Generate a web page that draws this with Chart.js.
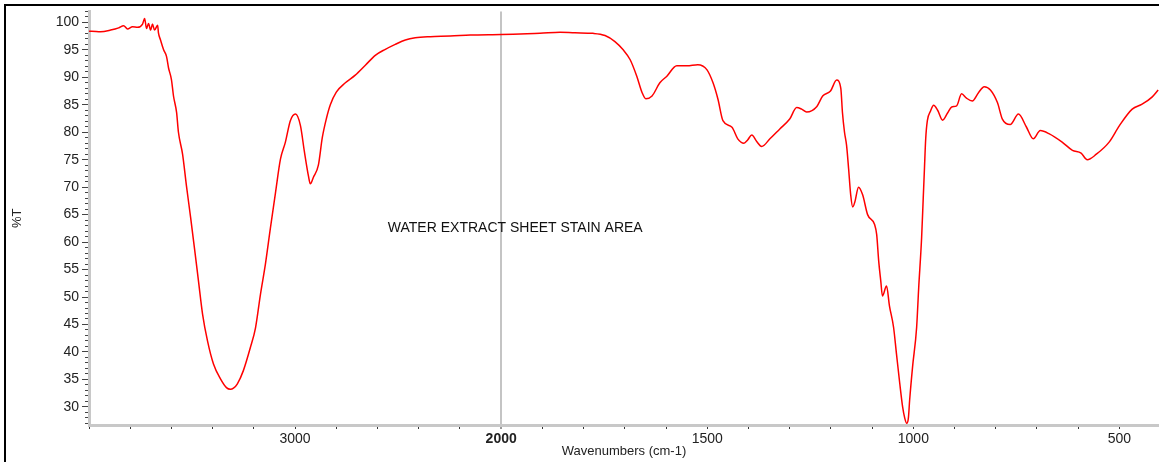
<!DOCTYPE html>
<html>
<head>
<meta charset="utf-8">
<script src="https://cdn.jsdelivr.net/npm/chart.js@4.4.1/dist/chart.umd.min.js"></script>
<style>
  html, body { margin: 0; padding: 0; background: #fff; }
</style>
</head>
<body>
<canvas id="irChart" width="1159" height="462"></canvas>
<script>
// spectrum (wavenumber in cm-1, %T)
const wavenumbers = [
  4000, 3987, 3944, 3895, 3856, 3832, 3813, 3789, 3764, 3740, 3730, 3721, 3711, 3701, 3692, 3682,
  3667, 3663, 3653, 3638, 3624, 3614, 3600, 3590, 3575, 3566, 3546, 3527, 3507, 3488, 3469, 3449,
  3425, 3396, 3362, 3333, 3314, 3299, 3280, 3251, 3217, 3192, 3168, 3144, 3120, 3095, 3071, 3047,
  3023, 2998, 2974, 2955, 2935, 2926, 2911, 2887, 2868, 2848, 2829, 2800, 2756, 2708, 2659, 2611,
  2562, 2514, 2465, 2417, 2344, 2247, 2150, 2000, 1954, 1906, 1857, 1821, 1777, 1748, 1724, 1704,
  1687, 1671, 1658, 1649, 1634, 1615, 1598, 1574, 1549, 1523, 1501, 1486, 1474, 1462, 1440, 1426,
  1411, 1402, 1392, 1380, 1368, 1348, 1324, 1300, 1283, 1271, 1259, 1234, 1220, 1201, 1186, 1176,
  1172, 1167, 1162, 1157, 1152, 1147, 1142, 1133, 1123, 1111, 1094, 1089, 1084, 1079, 1075, 1065,
  1058, 1048, 1041, 1033, 1026, 1021, 1016, 1012, 1009, 1002, 992, 987, 980, 976, 973, 970,
  966, 958, 951, 941, 929, 917, 907, 895, 883, 871, 857, 842, 828, 813, 796, 784,
  765, 745, 726, 709, 692, 670, 639, 614, 593, 578, 556, 525, 500, 469, 445, 421, 406
];
const transmittance = [
  98.4, 98.4, 98.3, 98.6, 99.0, 99.4, 98.8, 99.2, 99.1, 99.7, 100.7, 98.9, 99.8, 98.6, 99.7, 98.6,
  99.5, 98.1, 96.8, 95.0, 93.8, 91.7, 89.6, 86.6, 83.6, 80.0, 76.0, 70.2, 64.5, 58.8, 53.0, 46.9,
  42.0, 37.8, 35.1, 33.5, 33.2, 33.4, 34.2, 36.6, 40.8, 44.4, 50.5, 56.0, 62.5, 69.0, 75.1, 78.2,
  82.1, 83.3, 81.2, 76.5, 72.0, 70.6, 71.8, 74.0, 79.0, 82.5, 85.0, 87.3, 89.0, 90.4, 92.2, 94.0,
  95.1, 96.0, 96.8, 97.2, 97.4, 97.5, 97.7, 97.8, 97.9, 98.0, 98.2, 98.1, 98.0, 97.6, 96.5, 95.0,
  93.2, 90.2, 87.2, 86.1, 86.6, 89.0, 90.2, 92.1, 92.1, 92.3, 91.4, 89.0, 86.0, 82.1, 80.9, 78.8,
  78.0, 78.6, 79.5, 78.3, 77.4, 78.8, 80.6, 82.4, 84.5, 84.2, 83.7, 84.7, 86.6, 87.5, 89.5, 88.0,
  83.6, 80.0, 77.6, 73.3, 68.6, 66.4, 67.3, 70.0, 68.6, 65.0, 63.2, 61.4, 56.5, 52.9, 50.2, 52.0,
  48.4, 44.5, 39.7, 34.3, 30.0, 28.0, 27.0, 28.0, 31.2, 37.2, 44.5, 51.7, 60.7, 68.0, 73.5, 78.8,
  82.1, 83.9, 84.9, 84.0, 82.2, 83.5, 84.6, 84.8, 87.0, 86.2, 85.7, 87.2, 88.3, 87.7, 85.4, 82.4,
  81.4, 83.3, 81.0, 78.8, 80.3, 79.7, 78.2, 76.7, 76.2, 75.0, 76.0, 78.2, 81.2, 84.2, 85.1, 86.4, 87.7
];
const xTickLabels = [3000, 2000, 1500, 1000, 500];
const yTickLabels = [30, 35, 40, 45, 50, 55, 60, 65, 70, 75, 80, 85, 90, 95, 100];
const sampleName = "WATER EXTRACT SHEET STAIN AREA";

// above 2000 cm-1 the axis runs at half scale (scale change at 2000)
function toAxis(w) { return w > 2000 ? 2000 + (w - 2000) / 2 : w; }
function fromAxis(u) { return u > 2000 ? 2000 + (u - 2000) * 2 : u; }

const tickFont = "'Liberation Sans', Arial, sans-serif";

const framePlugin = {
  id: "frame",
  afterDraw(chart) {
    const ctx = chart.ctx;
    const xs = chart.scales.x, ys = chart.scales.y;
    ctx.save();
    ctx.fillStyle = "#000";
    ctx.fillRect(4, 4, chart.width - 4, 2);
    ctx.fillRect(4, 4, 2, chart.height - 4);
    ctx.font = "14px " + tickFont;
    ctx.fillStyle = "#111";
    ctx.textBaseline = "middle";
    ctx.fillText(sampleName, xs.getPixelForValue(toAxis(2550)), ys.getPixelForValue(62.6));
    ctx.restore();
  }
};

const ctx = document.getElementById("irChart").getContext("2d");
const irChart = new Chart(ctx, {
  type: "line",
  data: {
    datasets: [
      {
        label: "%T",
        data: wavenumbers.map((w, i) => ({ x: toAxis(w), y: transmittance[i] })),
        borderColor: "#ff0000",
        borderWidth: 1.5,
        pointRadius: 0,
        fill: false,
        cubicInterpolationMode: "monotone",
      },
    ],
  },
  options: {
    responsive: false,
    animation: false,
    devicePixelRatio: 1,
    layout: { padding: { top: 8, left: 0, right: 0, bottom: 0 } },
    plugins: {
      legend: { display: false },
      tooltip: { enabled: false },
    },
    scales: {
      x: {
        type: "linear",
        reverse: true,
        min: 404,
        max: 3000,
        afterBuildTicks: (scale) => {
          const ticks = [];
          for (let u = 500; u <= 3000; u += 100) ticks.push({ value: u });
          scale.ticks = ticks;
        },
        afterFit: (scale) => { scale.height = 37; },
        ticks: {
          autoSkip: false,
          maxRotation: 0,
          padding: 2,
          color: "#222",
          font: (c) => ({
            family: tickFont,
            size: 14,
            weight: c.tick && fromAxis(c.tick.value) === 2000 ? "bold" : "normal",
          }),
          callback: (value) => {
            const w = Math.round(fromAxis(value));
            return xTickLabels.includes(w) ? String(w) : "";
          },
        },
        grid: {
          drawOnChartArea: true,
          color: (c) => (c.tick && c.tick.value === 2000 ? "#c4c4c4" : "rgba(0,0,0,0)"),
          lineWidth: (c) => (c.tick && c.tick.value === 2000 ? 2 : 1),
          tickColor: "#333",
          tickWidth: 1,
          tickLength: 4,
        },
        border: { color: "#c8c8c8", width: 3 },
        title: {
          display: true,
          text: "Wavenumbers (cm-1)",
          color: "#222",
          font: { family: tickFont, size: 13 },
          padding: { top: 0, bottom: 3 },
        },
      },
      y: {
        type: "linear",
        min: 26.7,
        max: 102,
        afterBuildTicks: (scale) => {
          const ticks = [];
          for (let v = 27; v <= 102; v++) ticks.push({ value: v });
          scale.ticks = ticks;
        },
        afterFit: (scale) => { scale.width = 89; },
        ticks: {
          autoSkip: false,
          padding: 3,
          color: "#222",
          font: { family: tickFont, size: 14 },
          callback: (value) => (yTickLabels.includes(value) ? String(value) : ""),
        },
        grid: {
          drawOnChartArea: false,
          tickColor: "#444",
          tickLength: 7,
          tickBorderDash: (c) => (c.tick && yTickLabels.includes(c.tick.value) ? [] : [0, 3, 3, 0]),
        },
        border: { color: "#c8c8c8", width: 3 },
        title: {
          display: true,
          text: "%T",
          color: "#222",
          font: { family: tickFont, size: 13 },
          padding: { top: 10, bottom: 0 },
        },
      },
    },
  },
  plugins: [framePlugin],
});
</script>
</body>
</html>
